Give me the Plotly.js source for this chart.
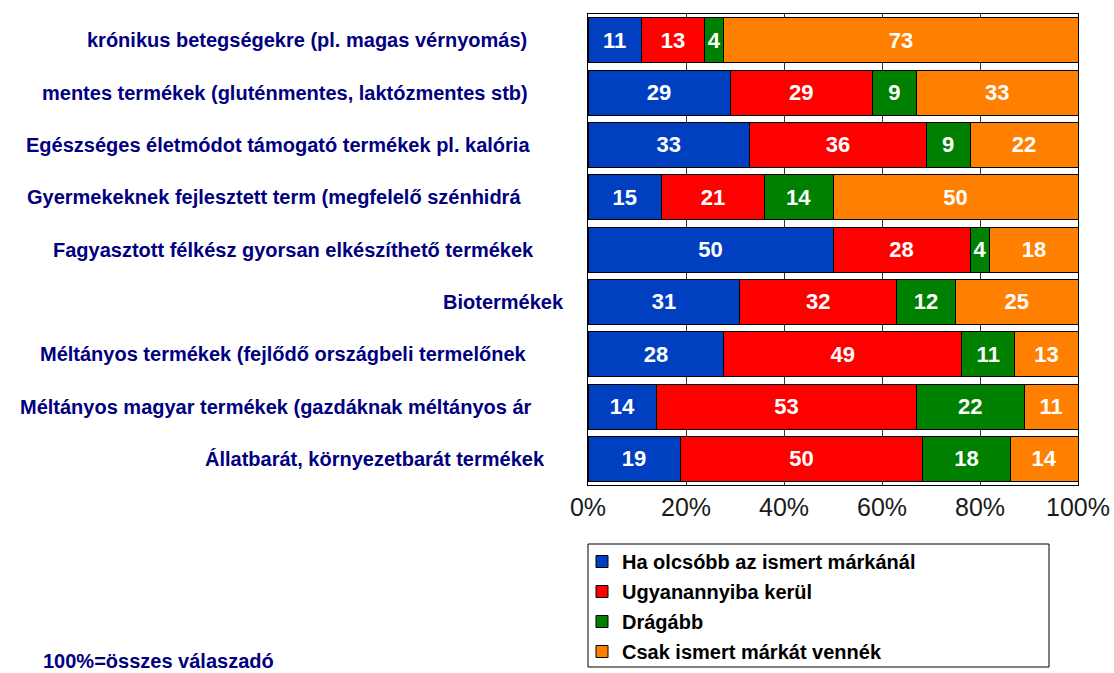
<!DOCTYPE html>
<html>
<head>
<meta charset="utf-8">
<script src="https://cdn.plot.ly/plotly-3.0.1.min.js"></script>
<style>
html,body{margin:0;padding:0;background:#fff;}
#chart{width:1114px;height:673px;}
</style>
</head>
<body>
<div id="chart"></div>
<script>
// ---- data ----
const categories = [
  "krónikus betegségekre (pl. magas vérnyomás)",
  "mentes termékek (gluténmentes, laktózmentes stb)",
  "Egészséges életmódot támogató termékek pl. kalória",
  "Gyermekeknek fejlesztett term (megfelelő szénhidrá",
  "Fagyasztott félkész gyorsan elkészíthető termékek",
  "Biotermékek",
  "Méltányos termékek (fejlődő országbeli termelőnek",
  "Méltányos magyar termékek (gazdáknak méltányos ár",
  "Állatbarát, környezetbarát termékek"
];
const seriesNames = [
  "Ha olcsóbb az ismert márkánál",
  "Ugyanannyiba kerül",
  "Drágább",
  "Csak ismert márkát vennék"
];
const cheaper   = [11, 29, 33, 15, 50, 31, 28, 14, 19];
const same      = [13, 29, 36, 21, 28, 32, 49, 53, 50];
const pricier   = [ 4,  9,  9, 14,  4, 12, 11, 22, 18];
const brandOnly = [73, 33, 22, 50, 18, 25, 13, 11, 14];
const tickVals  = [0, 20, 40, 60, 80, 100];
const tickText  = ["0%", "20%", "40%", "60%", "80%", "100%"];
const footnote  = "100%=összes válaszadó";

// ---- styling (not data) ----
const colors = ["#0040C0", "#FF0000", "#008000", "#FF8000"];
const labelRightPx = [529, 530, 532, 523, 536, 566, 529, 534, 547]; // right edge of each category label, px
const FONT = "Liberation Sans, Arial, sans-serif";
const W = 1114, H = 673;
const margin = {l: 588, r: 36, t: 14, b: 188, autoexpand: false};
const plotW = W - margin.l - margin.r, plotH = H - margin.t - margin.b;
const px2x = p => (p - margin.l) / plotW;
const px2y = p => ((H - margin.b) - p) / plotH;

const seriesValues = [cheaper, same, pricier, brandOnly];
const traces = seriesValues.map((vals, i) => ({
  type: "bar",
  orientation: "h",
  name: seriesNames[i],
  legendgroup: "g" + i,
  y: categories,
  x: vals,
  text: vals.map(String),
  texttemplate: "%{text}",
  textposition: "inside",
  insidetextanchor: "middle",
  textangle: 0,
  textfont: {family: FONT, size: 22, color: "#ffffff", weight: "bold"},
  marker: {color: colors[i], line: {color: "#000000", width: 1}},
  hoverinfo: "skip"
}));

const annotations = categories.map((c, i) => ({
  text: "<b>" + c + "</b>",
  xref: "paper", yref: "y",
  x: px2x(labelRightPx[i]),
  y: c,
  xanchor: "right", yanchor: "middle",
  showarrow: false,
  font: {family: FONT, size: 20, color: "#000080"}
}));
annotations.push({
  text: "<b>" + footnote + "</b>",
  xref: "paper", yref: "paper",
  x: px2x(42),
  y: px2y(661),
  xanchor: "left", yanchor: "middle",
  showarrow: false,
  borderpad: 0,
  font: {family: FONT, size: 20, color: "#000080"}
});

const layout = {
  width: W, height: H,
  margin: margin,
  paper_bgcolor: "#ffffff",
  plot_bgcolor: "#ffffff",
  barmode: "stack",
  barnorm: "percent",
  bargap: 0.14,
  showlegend: true,
  uniformtext: {mode: "show", minsize: 22},
  xaxis: {
    range: [0, 100],
    tickvals: tickVals,
    ticktext: tickText,
    tickfont: {family: FONT, size: 25, color: "#1a1a1a"},
    showgrid: true,
    gridcolor: "#333333",
    gridwidth: 1,
    zeroline: false,
    showline: true,
    linecolor: "#000000",
    linewidth: 1,
    mirror: true,
    ticks: "",
    fixedrange: true
  },
  yaxis: {
    autorange: "reversed",
    showticklabels: false,
    showgrid: false,
    zeroline: false,
    showline: true,
    linecolor: "#000000",
    linewidth: 1,
    mirror: true,
    ticks: "",
    fixedrange: true
  },
  legend: {
    x: px2x(582), xanchor: "left",
    y: px2y(542), yanchor: "top",
    borderwidth: 0,
    bgcolor: "rgba(0,0,0,0)",
    traceorder: "grouped",
    tracegroupgap: 1,
    font: {family: FONT, size: 20, color: "#000000", weight: "bold"},
    itemclick: false
  },
  shapes: [{
    type: "rect", xref: "paper", yref: "paper",
    x0: px2x(588), x1: px2x(1049),
    y0: px2y(544), y1: px2y(667),
    line: {color: "#000000", width: 1},
    fillcolor: "rgba(0,0,0,0)",
    layer: "below"
  }],
  annotations: annotations
};

Plotly.newPlot("chart", traces, layout, {displayModeBar: false, staticPlot: true});
</script>
</body>
</html>
